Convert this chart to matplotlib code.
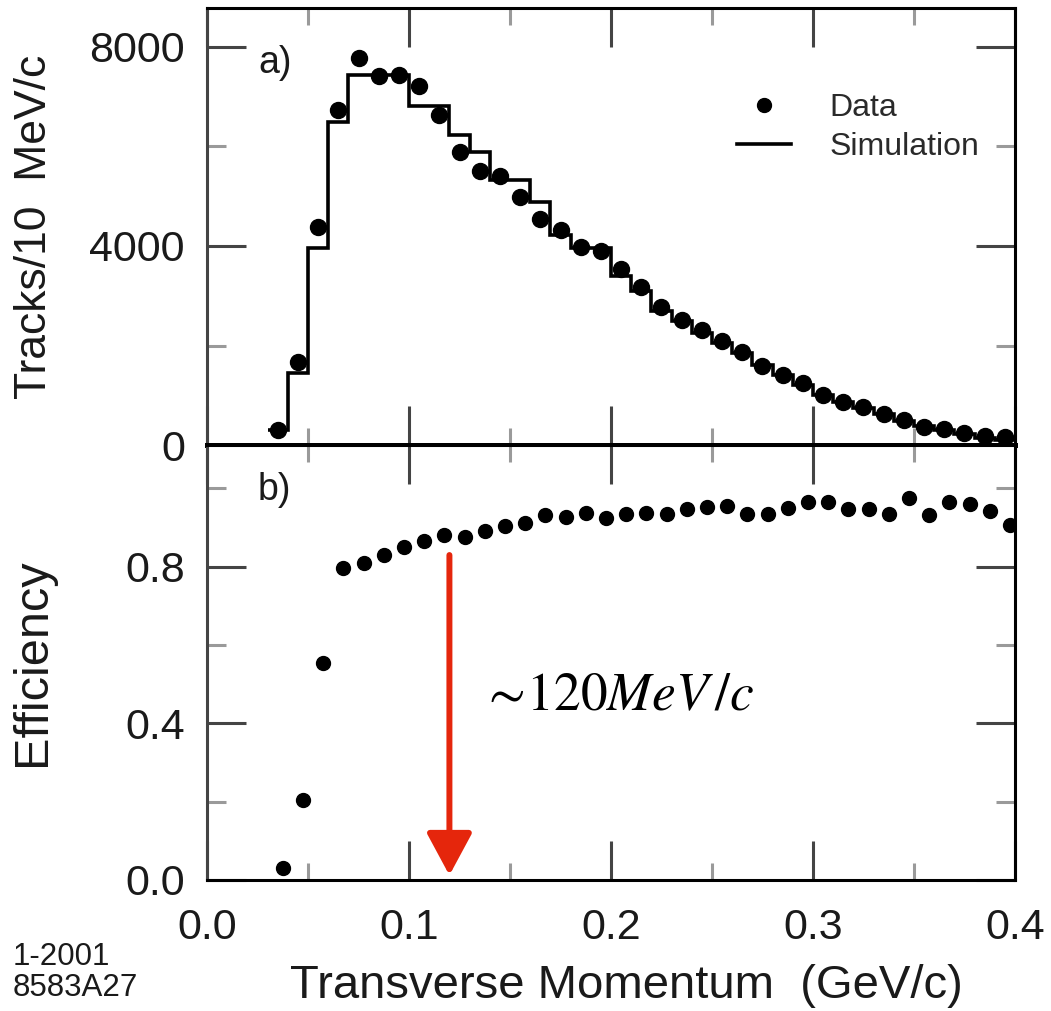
import numpy as np
import matplotlib
matplotlib.use("Agg")
import matplotlib.pyplot as plt
from matplotlib.ticker import MultipleLocator, FixedLocator
from matplotlib.lines import Line2D

plt.rcParams['font.family'] = ['Liberation Sans', 'DejaVu Sans']
plt.rcParams['mathtext.fontset'] = 'stix'

# 10 MeV/c bins from 30 to 400 MeV/c
edges = 0.03 + 0.01 * np.arange(38)
centers = 0.035 + 0.01 * np.arange(37)
eff_x = 0.0375 + 0.01 * np.arange(37)

tracks_data = [300, 1670, 4380, 6730, 7780, 7420, 7440, 7220, 6630, 5890,
               5510, 5410, 4980, 4540, 4320, 3980, 3900, 3540, 3180, 2770,
               2510, 2310, 2090, 1870, 1590, 1410, 1250, 1000, 870, 760,
               620, 500, 360, 320, 240, 180, 160]
tracks_sim = [300, 1450, 3960, 6490, 7440, 7440, 7440, 6820, 6820, 6230,
              5890, 5330, 5330, 4880, 4220, 3960, 3960, 3400, 3100, 2700,
              2500, 2250, 2050, 1850, 1600, 1400, 1200, 1000, 870, 740,
              620, 480, 380, 300, 220, 150, 100]
efficiency = [0.031, 0.204, 0.554, 0.797, 0.810, 0.830, 0.850, 0.866, 0.881, 0.876,
              0.892, 0.904, 0.912, 0.932, 0.927, 0.937, 0.925, 0.935, 0.937, 0.936,
              0.947, 0.952, 0.956, 0.935, 0.936, 0.951, 0.965, 0.965, 0.947, 0.947,
              0.936, 0.975, 0.933, 0.966, 0.960, 0.943, 0.907]

cut_pt = 0.12          # GeV/c
cut_top = 0.83
cut_tip = 0.012

ink = '#1a1a1a'
red = '#e5260c'

fig = plt.figure(figsize=(10.51, 10.11), dpi=100)
ax1 = fig.add_axes([0.197, 0.5598, 0.7687, 0.4322])
ax2 = fig.add_axes([0.197, 0.1296, 0.7687, 0.4302], sharex=ax1)

for ax in (ax1, ax2):
    for s in ax.spines.values():
        s.set_linewidth(2.2)
        s.set_color('black')
    ax.spines['left'].set_color('#444444')
    ax.tick_params(which='both', direction='in', top=True, right=True,
                   labelsize=31, labelcolor=ink)
    ax.tick_params(which='major', length=28, width=2.2, color='#444444')
    ax.tick_params(which='minor', length=12, width=2.2, color='#9a9a9a')
    ax.tick_params(axis='y', which='minor', length=14)
    ax.tick_params(axis='y', pad=16)
    ax.tick_params(axis='x', pad=20)
    ax.xaxis.set_major_locator(MultipleLocator(0.1))
    ax.xaxis.set_minor_locator(MultipleLocator(0.05))

ax1.set_xlim(0, 0.4)
# heavier line where the two panels meet
ax1.spines['bottom'].set_linewidth(3.6)

# a) track yield
ax1.stairs(tracks_sim, edges, baseline=None, color='black', linewidth=2.6)
ax1.plot(centers, tracks_data, 'o', color='black', markersize=11.5, linestyle='none')
ax1.set_ylim(0, 8780)
ax1.yaxis.set_major_locator(FixedLocator([0, 4000, 8000]))
ax1.yaxis.set_minor_locator(FixedLocator([2000, 6000]))
ax1.tick_params(axis='x', labelbottom=False)
ax1.set_ylabel('Tracks/10  MeV/c', fontsize=32, color=ink)
ax1.yaxis.set_label_coords(-0.188, 0.5)
ax1.text(0.063, 0.915, 'a)', transform=ax1.transAxes, fontsize=27,
         color=ink, va='top', ha='left')

handles = [Line2D([], [], marker='o', color='black', linestyle='none', markersize=10),
           Line2D([], [], color='black', linewidth=2.6)]
ax1.legend(handles, ['Data', 'Simulation'], loc='upper left',
           bbox_to_anchor=(0.656, 0.806), frameon=False, fontsize=23,
           handlelength=1.7, handletextpad=1.2, labelspacing=0.3,
           borderpad=0, borderaxespad=0, labelcolor='#2a2a2a')

# b) reconstruction efficiency
ax2.plot(eff_x, efficiency, 'o', color='black', markersize=10, linestyle='none')
ax2.set_ylim(0, 1.111)
ax2.yaxis.set_major_locator(FixedLocator([0.0, 0.4, 0.8]))
ax2.yaxis.set_minor_locator(FixedLocator([0.2, 0.6, 1.0]))
ax2.yaxis.set_major_formatter(plt.FormatStrFormatter('%.1f'))
ax2.xaxis.set_major_formatter(plt.FormatStrFormatter('%.1f'))
ax2.set_ylabel('Efficiency', fontsize=35, color=ink)
ax2.yaxis.set_label_coords(-0.188, 0.5)
ax2.set_xlabel('Transverse Momentum  (GeV/c)', fontsize=34, color=ink, labelpad=12)
ax2.xaxis.label.set_x(0.519)
ax2.text(0.063, 0.938, 'b)', transform=ax2.transAxes, fontsize=27,
         color=ink, va='top', ha='left')

ax2.annotate('', xy=(cut_pt, cut_tip), xytext=(cut_pt, cut_top),
             arrowprops=dict(arrowstyle='-|>,head_length=1.3,head_width=0.7',
                             color=red, lw=4.3, mutation_scale=20,
                             shrinkA=0, shrinkB=0))
ax2.text(0.1355, 0.434, r'$\sim\!120MeV\,/c$', fontsize=38.5, color='black',
         va='baseline', ha='left')

fig.text(0.012, 0.008, '1-2001\n8583A27', fontsize=22.5, color=ink,
         ha='left', va='bottom', linespacing=1.05)

fig.savefig('out.png', dpi=100)
